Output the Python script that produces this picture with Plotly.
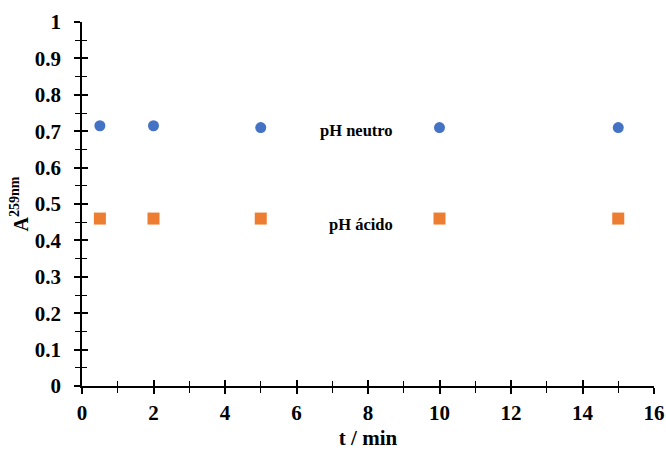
import plotly.graph_objects as go

t_min = [0.5, 2, 5, 10, 15]
a_neutro = [0.715, 0.715, 0.71, 0.71, 0.71]
a_acido = [0.46, 0.46, 0.46, 0.46, 0.46]

font = dict(family="Liberation Serif", color="black")
tickfont = dict(family="Liberation Serif", size=21, color="black", weight="bold")

fig = go.Figure()
fig.add_trace(go.Scatter(x=t_min, y=a_neutro, mode="markers", name="pH neutro",
                         marker=dict(symbol="circle", size=11, color="#4472C4")))
fig.add_trace(go.Scatter(x=t_min, y=a_acido, mode="markers", name="pH ácido",
                         marker=dict(symbol="square", size=12, color="#ED7D31")))
# invisible trace to activate overlay axes (for crossing ticks)
fig.add_trace(go.Scatter(x=[None], y=[None], xaxis="x2", yaxis="y2", showlegend=False, hoverinfo="skip"))

common_x = dict(range=[0, 16], dtick=2, showgrid=False, zeroline=False)
common_y = dict(range=[0, 1], dtick=0.1, showgrid=False, zeroline=False)

fig.update_layout(
    width=666, height=450,
    margin=dict(l=82, r=12, t=22, b=64),
    plot_bgcolor="white", paper_bgcolor="white",
    showlegend=False,
    font=font,
    xaxis=dict(**common_x, showline=True, linecolor="black", linewidth=1.5,
               ticks="outside", ticklen=6, tickwidth=1.5, tickcolor="black",
               minor=dict(ticks="outside", ticklen=5, tickwidth=1, tickcolor="black", dtick=1),
               tickfont=tickfont, ticklabelstandoff=1, automargin=False,
               title=dict(text="<b>t / min</b>", font=dict(family="Liberation Serif", size=21), standoff=8)),
    yaxis=dict(**common_y, showline=True, linecolor="black", linewidth=1.5,
               ticks="outside", ticklen=6, tickwidth=1.5, tickcolor="black",
               minor=dict(ticks="outside", ticklen=5, tickwidth=1, tickcolor="black", dtick=0.05),
               tickfont=tickfont, ticklabelstandoff=9, automargin=False,
               tickformat="~g",
               title=dict(text="<b>A<sup>259nm</sup></b>", font=dict(family="Liberation Serif", size=20), standoff=1)),
    xaxis2=dict(**common_x, overlaying="x", side="bottom", anchor="y2", showline=False,
                ticks="inside", ticklen=6, tickwidth=1.5, tickcolor="black", showticklabels=False,
                minor=dict(ticks="inside", ticklen=5, tickwidth=1, tickcolor="black", dtick=1)),
    yaxis2=dict(**common_y, overlaying="y", side="left", anchor="x2", showline=False,
                ticks="inside", ticklen=6, tickwidth=1.5, tickcolor="black", showticklabels=False,
                minor=dict(ticks="inside", ticklen=5, tickwidth=1, tickcolor="black", dtick=0.05)),
    annotations=[
        dict(x=7.69, y=0.703, xref="x", yref="y", text="<b>pH neutro</b>", showarrow=False,
             font=dict(family="Liberation Serif", size=16.5, color="black")),
        dict(x=7.8, y=0.445, xref="x", yref="y", text="<b>pH ácido</b>", showarrow=False,
             font=dict(family="Liberation Serif", size=16.5, color="black")),
    ],
)

fig.write_html("out.html")
